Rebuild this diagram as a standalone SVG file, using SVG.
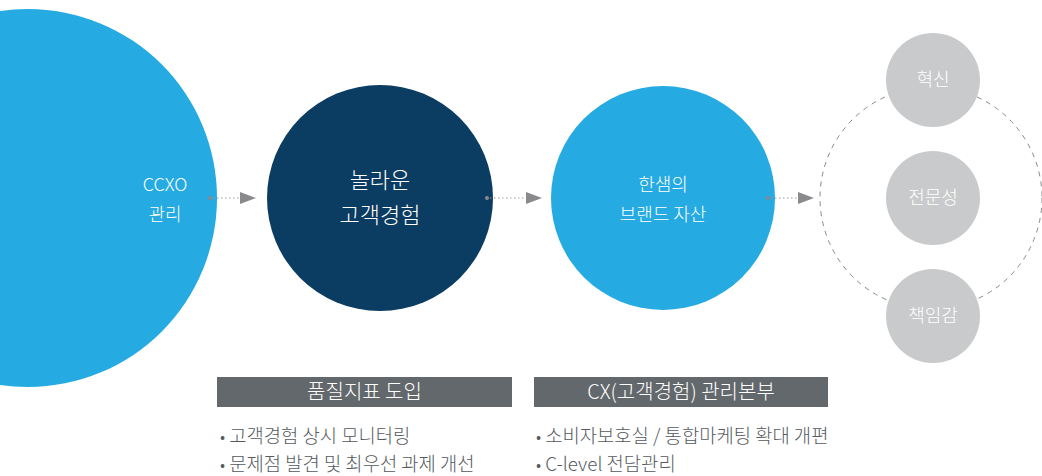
<svg xmlns="http://www.w3.org/2000/svg" width="1042" height="476" viewBox="0 0 1042 476">
<style>
text{font-family:"Noto Sans CJK KR","Noto Sans",sans-serif;font-weight:300;}
.w{fill:#ffffff;text-anchor:middle;}
.bar{fill:#63686c;}
.bt{fill:#ffffff;font-size:20px;text-anchor:middle;}
.li{fill:#555a5e;font-size:18.8px;}
.bu{font-size:16px;}
.gc{fill:#c9cacb;}
.dot{stroke:#9a9a9a;stroke-width:1.2;stroke-dasharray:1.5 2.5;fill:none;}
</style>
<defs>
<marker id="ah" markerWidth="16" markerHeight="12" refX="0" refY="6" orient="auto" markerUnits="userSpaceOnUse">
<path d="M0,0 L16,6 L0,12 Z" fill="#8a8a8c"/>
</marker>
</defs>
<g id="n1"><circle cx="28" cy="198" r="189" fill="#25aae1"/><text class="w" x="165" y="191" font-size="18">CCXO</text><text class="w" x="165" y="221" font-size="18">관리</text></g>
<g id="n2"><circle cx="380" cy="198" r="113" fill="#0b3c61"/><text class="w" x="380" y="188" font-size="22">놀라운</text><text class="w" x="380" y="223" font-size="22">고객경험</text></g>
<g id="n3"><circle cx="663" cy="198" r="112" fill="#25aae1"/><text class="w" x="663" y="191" font-size="18">한샘의</text><text class="w" x="663" y="221" font-size="18">브랜드 자산</text></g>
<g id="ring"><circle cx="931" cy="198" r="111" fill="none" stroke="#8a8a8a" stroke-width="1" stroke-dasharray="5 5"/></g>
<g id="n4"><circle class="gc" cx="933" cy="80" r="47"/><text class="w" x="933" y="86" font-size="18">혁신</text></g>
<g id="n5"><circle class="gc" cx="933" cy="198" r="47"/><text class="w" x="933" y="204" font-size="18">전문성</text></g>
<g id="n6"><circle class="gc" cx="933" cy="316" r="47"/><text class="w" x="933" y="322" font-size="18">책임감</text></g>
<g id="connectors">
<circle cx="210" cy="198" r="2" fill="#8a8a8c"/><line class="dot" x1="213" y1="198" x2="240" y2="198" marker-end="url(#ah)"/>
<circle cx="487" cy="198" r="2" fill="#8a8a8c"/><line class="dot" x1="490" y1="198" x2="526" y2="198" marker-end="url(#ah)"/>
<circle cx="768" cy="198" r="2" fill="#8a8a8c"/><line class="dot" x1="771" y1="198" x2="798" y2="198" marker-end="url(#ah)"/>
</g>
<g id="b1"><rect class="bar" x="217" y="377" width="295" height="30"/><text class="bt" x="364.5" y="399">품질지표 도입</text>
<text class="li" x="220" y="443"><tspan class="bu">•</tspan> 고객경험 상시 모니터링</text><text class="li" x="220" y="471"><tspan class="bu">•</tspan> 문제점 발견 및 최우선 과제 개선</text></g>
<g id="b2"><rect class="bar" x="534" y="377" width="294" height="30"/><text class="bt" x="681" y="399">CX(고객경험) 관리본부</text>
<text class="li" x="536" y="443"><tspan class="bu">•</tspan> 소비자보호실 / 통합마케팅 확대 개편</text><text class="li" x="536" y="471"><tspan class="bu">•</tspan> C-level 전담관리</text></g>
</svg>
